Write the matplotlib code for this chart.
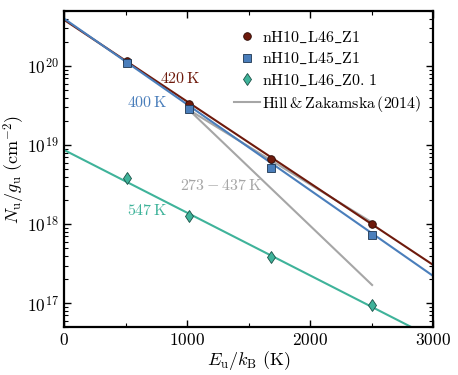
import numpy as np
import matplotlib
matplotlib.use("Agg")
import matplotlib.pyplot as plt

plt.rcParams['font.family'] = 'serif'
plt.rcParams['font.serif'] = ['cmr10']
plt.rcParams['mathtext.fontset'] = 'cm'
plt.rcParams['axes.formatter.use_mathtext'] = True

# upper level energies of the H2 rotational lines (K)
energy = [510, 1015, 1682, 2504]

# column densities per statistical weight (cm^-2)
n_L46_Z1 = [1.15e20, 3.27e19, 6.6e18, 1.0e18]
n_L45_Z1 = [1.11e20, 2.83e19, 5.1e18, 7.4e17]
n_L46_Z01 = [3.8e18, 1.28e18, 3.8e17, 9.6e16]

# excitation temperature fits: temperature (K) and value at E=0
fit_temps = [420, 400, 547]
fit_n0 = [3.86e20, 4.0e20, 8.7e18]

# Hill & Zakamska (2014) range
hz_energy = [1015, 2504]
hz_upper = [2.8e19, 1.05e18]
hz_lower = [2.8e19, 1.7e17]

red = '#6e1a0c'
blue = '#4a7ebb'
green = '#3fb39a'
gray = '#a6a6a6'

fig = plt.figure(figsize=(4.58, 3.75), dpi=100)
ax = fig.add_axes([0.1397, 0.128, 0.806, 0.843])

e_line = np.array([0, 3000])
for T, n0, col in zip(fit_temps, fit_n0, [red, blue, green]):
    ax.plot(e_line, n0 * np.exp(-e_line / T), color=col, lw=1.5, zorder=2)

ax.plot(hz_energy, hz_upper, color=gray, lw=1.5, zorder=1.5,
        label=r'Hill$\,$&$\,$Zakamska$\,$(2014)')
ax.plot(hz_energy, hz_lower, color=gray, lw=1.5, zorder=1.5)

ax.plot(energy, n_L46_Z1, 'o', color=red, mec='#2a0a05', mew=0.6, ms=5.5,
        ls='none', zorder=3, label=r'$\mathrm{nH10\_L46\_Z1}$')
ax.plot(energy, n_L45_Z1, 's', color=blue, mec='#1e3550', mew=0.6, ms=5.5,
        ls='none', zorder=3, label=r'$\mathrm{nH10\_L45\_Z1}$')
ax.plot(energy, n_L46_Z01, 'd', color=green, mec='#1a5046', mew=0.6, ms=6.5,
        ls='none', zorder=3, label=r'$\mathrm{nH10\_L46\_Z0.}\,\mathrm{1}$')

ax.text(943, 6.9e19, r'$420\,\mathrm{K}$', color=red, fontsize=11.5, ha='center', va='center')
ax.text(675, 3.5e19, r'$400\,\mathrm{K}$', color=blue, fontsize=11.5, ha='center', va='center')
ax.text(1276, 3.1e18, r'$273-437\,\mathrm{K}$', color=gray, fontsize=11.5, ha='center', va='center')
ax.text(675, 1.48e18, r'$547\,\mathrm{K}$', color=green, fontsize=11.5, ha='center', va='center')

ax.set_yscale('log')
ax.set_xlim(0, 3000)
ax.set_ylim(5e16, 5e20)
ax.set_xticks([0, 1000, 2000, 3000])
ax.set_xticks([500, 1500, 2500], minor=True)
ax.tick_params(which='both', direction='in', top=True, right=True, labelsize=12.5)
ax.tick_params(which='major', length=5, width=1)
ax.tick_params(which='minor', length=3, width=0.8)
for s in ax.spines.values():
    s.set_linewidth(1.6)

ax.set_xlabel(r'$E_\mathrm{u}/k_\mathrm{B}\ (\mathrm{K})$', fontsize=13, labelpad=1)
ax.set_ylabel(r'$N_\mathrm{u}/g_\mathrm{u}\ (\mathrm{cm}^{-2})$', fontsize=13)
ax.yaxis.set_label_coords(-0.10, 0.5)

h, l = ax.get_legend_handles_labels()
order = [1, 2, 3, 0]
ax.legend([h[i] for i in order], [l[i] for i in order], loc='upper right',
          bbox_to_anchor=(1.0, 0.975), frameon=False, fontsize=11.5,
          handlelength=1.6, handletextpad=0.15, borderaxespad=0.3,
          labelspacing=0.38)

fig.savefig('out.png', dpi=100)
